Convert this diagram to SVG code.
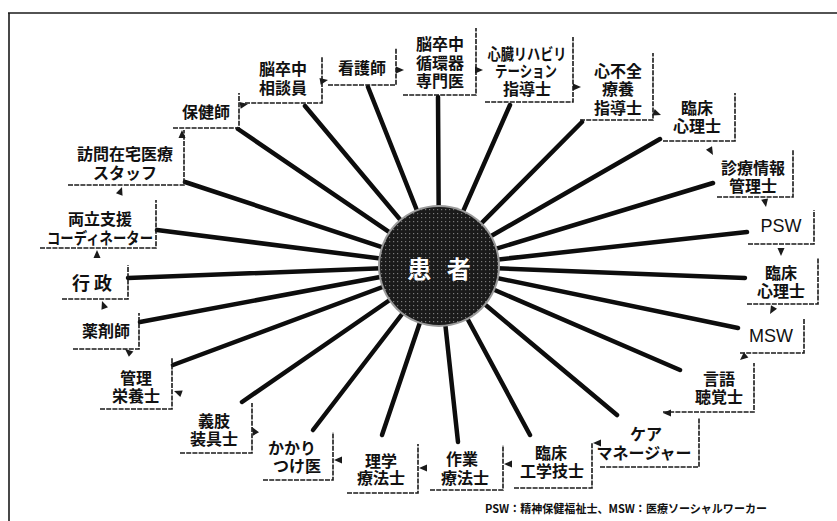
<svg xmlns="http://www.w3.org/2000/svg" xmlns:xlink="http://www.w3.org/1999/xlink" width="837" height="521" viewBox="0 0 837 521">
<style>
.bx{fill:none;stroke:#1a1a1a;stroke-width:1.6;stroke-dasharray:5 1.2}
.t{font-family:"Noto Sans CJK JP","Noto Sans CJK SC",sans-serif;font-size:16px;font-weight:bold;text-anchor:middle;dominant-baseline:central;fill:#111}
.en{font-family:"Liberation Sans",Arial,sans-serif;font-size:18px;font-weight:normal}
.spk{stroke:#0d0d0d;stroke-width:4.5;stroke-linecap:round}
.ah{fill:#1a1a1a}
.fn{font-family:"Noto Sans CJK JP",sans-serif;font-size:11.5px;font-weight:bold;fill:#111}
</style>
<defs>
<path id="ah" d="M0 0 L-8 -3.5 L-8 3.5 Z"/>
<pattern id="dots" width="4" height="4" patternUnits="userSpaceOnUse">
<rect width="4" height="4" fill="#1a1a1a"/>
<rect x="1" y="1" width="1.2" height="1.2" fill="#7a7a7a"/>
</pattern>
</defs>
<rect width="837" height="521" fill="#fff"/>
<g id="frame" stroke="#1a1a1a" stroke-width="1.6" fill="none">
<line x1="8" y1="13" x2="837" y2="13"/>
<line x1="9" y1="13" x2="9" y2="521"/>
</g>
<g id="connectors">
<g class="spk">
<line x1="238" y1="129" x2="439" y2="266"/>
<line x1="305" y1="106" x2="439" y2="266"/>
<line x1="368" y1="87" x2="439" y2="266"/>
<line x1="438" y1="97" x2="439" y2="266"/>
<line x1="510" y1="105" x2="439" y2="266"/>
<line x1="582" y1="122" x2="439" y2="266"/>
<line x1="660" y1="139" x2="439" y2="266"/>
<line x1="713" y1="183" x2="439" y2="266"/>
<line x1="747" y1="232" x2="439" y2="266"/>
<line x1="745" y1="278" x2="439" y2="266"/>
<line x1="738" y1="328" x2="439" y2="266"/>
<line x1="680" y1="370" x2="439" y2="266"/>
<line x1="617" y1="415" x2="439" y2="266"/>
<line x1="530" y1="435" x2="439" y2="266"/>
<line x1="458" y1="442" x2="439" y2="266"/>
<line x1="382" y1="435" x2="439" y2="266"/>
<line x1="313" y1="430" x2="439" y2="266"/>
<line x1="242" y1="402" x2="439" y2="266"/>
<line x1="173" y1="365" x2="439" y2="266"/>
<line x1="140" y1="322" x2="439" y2="266"/>
<line x1="128" y1="278" x2="439" y2="266"/>
<line x1="157" y1="230" x2="439" y2="266"/>
<line x1="185" y1="182" x2="439" y2="266"/>
</g>
<g class="ah">
<use xlink:href="#ah" transform="translate(182,130) rotate(-90)"/>
<use xlink:href="#ah" transform="translate(122,187) rotate(-70)"/>
<use xlink:href="#ah" transform="translate(97,250) rotate(-90)"/>
<use xlink:href="#ah" transform="translate(102,301) rotate(-110)"/>
<use xlink:href="#ah" transform="translate(125,349) rotate(-140)"/>
<use xlink:href="#ah" transform="translate(174,391) rotate(-160)"/>
<use xlink:href="#ah" transform="translate(252,427) rotate(-120)"/>
<use xlink:href="#ah" transform="translate(334,460) rotate(180)"/>
<use xlink:href="#ah" transform="translate(419,468) rotate(180)"/>
<use xlink:href="#ah" transform="translate(504,464) rotate(180)"/>
<use xlink:href="#ah" transform="translate(593,443) rotate(180)"/>
<use xlink:href="#ah" transform="translate(663,413) rotate(180)"/>
<use xlink:href="#ah" transform="translate(740,360) rotate(140)"/>
<use xlink:href="#ah" transform="translate(770,314) rotate(120)"/>
<use xlink:href="#ah" transform="translate(781,256) rotate(90)"/>
<use xlink:href="#ah" transform="translate(766,207) rotate(80)"/>
<use xlink:href="#ah" transform="translate(713,155) rotate(60)"/>
<use xlink:href="#ah" transform="translate(661,115) rotate(20)"/>
<use xlink:href="#ah" transform="translate(581,87) rotate(0)"/>
<use xlink:href="#ah" transform="translate(483,70) rotate(0)"/>
<use xlink:href="#ah" transform="translate(404,70) rotate(0)"/>
<use xlink:href="#ah" transform="translate(328,80) rotate(-10)"/>
<use xlink:href="#ah" transform="translate(248,104) rotate(-10)"/>
</g>
</g>
<g id="patient">
<circle cx="439" cy="266" r="61" fill="#9a9a9a"/>
<circle cx="439" cy="266" r="59" fill="url(#dots)"/>
<text x="439" y="267" xml:space="preserve" word-spacing="10" style="font-family:'Noto Sans CJK JP',sans-serif;font-size:24px;font-weight:bold;fill:#fff;text-anchor:middle;dominant-baseline:central">患 者</text>
</g>
<g id="n-hokenshi"><polyline class="bx" points="173,128 239,128 239,93"/><text class="t" x="206" y="111">保健師</text></g>
<g id="n-soudanin"><polyline class="bx" points="245,103 322,103 322,57"/><text class="t"><tspan x="283" y="68">脳卒中</tspan><tspan x="283" y="87">相談員</tspan></text></g>
<g id="n-kangoshi"><polyline class="bx" points="328,85 396,85 396,48"/><text class="t" x="362" y="67">看護師</text></g>
<g id="n-senmoni"><polyline class="bx" points="403,95 476,95 476,28"/><text class="t"><tspan x="440" y="43">脳卒中</tspan><tspan x="440" y="62">循環器</tspan><tspan x="440" y="80">専門医</tspan></text></g>
<g id="n-shinzoreha"><polyline class="bx" points="485,102 573,102 573,37"/><text class="t"><tspan x="527" y="53" textLength="79" lengthAdjust="spacingAndGlyphs">心臓リハビリ</tspan><tspan x="526" y="70" textLength="62" lengthAdjust="spacingAndGlyphs">テーション</tspan><tspan x="527" y="88">指導士</tspan></text></g>
<g id="n-shinfuzen"><polyline class="bx" points="580,120 653,120 653,53"/><text class="t"><tspan x="618" y="70">心不全</tspan><tspan x="618" y="88">療養</tspan><tspan x="618" y="107">指導士</tspan></text></g>
<g id="n-rinsho1"><polyline class="bx" points="663,141 735,141 735,93"/><text class="t"><tspan x="697" y="107">臨床</tspan><tspan x="697" y="125">心理士</tspan></text></g>
<g id="n-shinryo"><polyline class="bx" points="717,197 793,197 793,150"/><text class="t"><tspan x="753" y="167">診療情報</tspan><tspan x="753" y="185">管理士</tspan></text></g>
<g id="n-psw"><polyline class="bx" points="748,244 814,244 814,210"/><text class="t en" x="781" y="226">PSW</text></g>
<g id="n-rinsho2"><polyline class="bx" points="747,304 818,304 818,258"/><text class="t"><tspan x="781" y="272">臨床</tspan><tspan x="781" y="290">心理士</tspan></text></g>
<g id="n-msw"><polyline class="bx" points="740,353 804,353 804,318"/><text class="t en" x="771" y="336">MSW</text></g>
<g id="n-gengo"><polyline class="bx" points="663,412 754,412 754,363"/><text class="t"><tspan x="719" y="378">言語</tspan><tspan x="719" y="396">聴覚士</tspan></text></g>
<g id="n-care"><polyline class="bx" points="600,467 699,467 699,418"/><text class="t"><tspan x="646" y="433">ケア</tspan><tspan x="644" y="452">マネージャー</tspan></text></g>
<g id="n-kogaku"><polyline class="bx" points="514,488 592,488 592,443"/><text class="t"><tspan x="551" y="452">臨床</tspan><tspan x="552" y="470">工学技士</tspan></text></g>
<g id="n-sagyo"><polyline class="bx" points="430,490 503,490 503,445"/><text class="t"><tspan x="462" y="458">作業</tspan><tspan x="465" y="477">療法士</tspan></text></g>
<g id="n-rigaku"><polyline class="bx" points="347,493 418,493 418,444"/><text class="t"><tspan x="381" y="460">理学</tspan><tspan x="381" y="477">療法士</tspan></text></g>
<g id="n-kakari"><polyline class="bx" points="263,480 333,480 333,432"/><text class="t"><tspan x="292" y="447">かかり</tspan><tspan x="297" y="465">つけ医</tspan></text></g>
<g id="n-gishi"><polyline class="bx" points="180,453 252,453 252,403"/><text class="t"><tspan x="214" y="420">義肢</tspan><tspan x="214" y="438">装具士</tspan></text></g>
<g id="n-eiyo"><polyline class="bx" points="100,409 172,409 172,358"/><text class="t"><tspan x="136" y="377">管理</tspan><tspan x="136" y="395">栄養士</tspan></text></g>
<g id="n-yakuzai"><polyline class="bx" points="73,349 139,349 139,313"/><text class="t" x="106" y="330">薬剤師</text></g>
<g id="n-gyosei"><polyline class="bx" points="62,299 128,299 128,265"/><text class="t" x="92" y="282" style="font-size:18px" xml:space="preserve">行 政</text></g>
<g id="n-ryoritsu"><polyline class="bx" points="40,248 156,248 156,200"/><text class="t"><tspan x="100" y="218">両立支援</tspan><tspan x="100" y="237" textLength="106" lengthAdjust="spacingAndGlyphs">コーディネーター</tspan></text></g>
<g id="n-homon"><polyline class="bx" points="68,185 184,185 184,130"/><text class="t"><tspan x="125" y="153">訪問在宅医療</tspan><tspan x="125" y="172">スタッフ</tspan></text></g>
<text class="fn" x="485" y="508" dominant-baseline="central" textLength="282" lengthAdjust="spacingAndGlyphs">PSW：精神保健福祉士、MSW：医療ソーシャルワーカー</text>
</svg>
